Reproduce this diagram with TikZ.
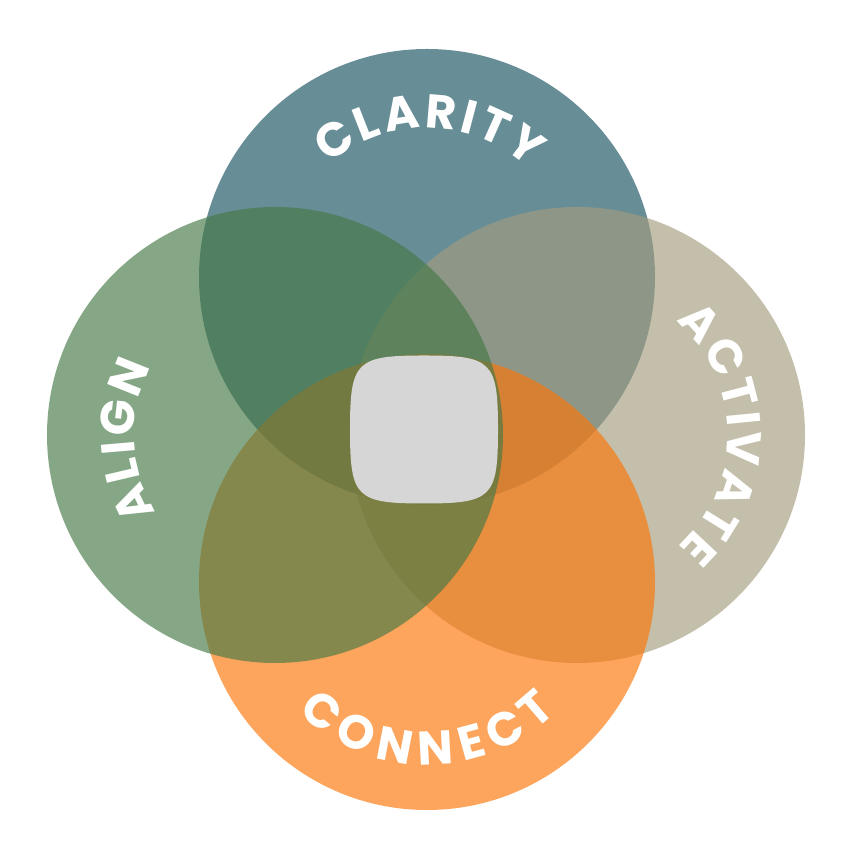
\documentclass[tikz,border=0pt]{standalone}
\usepackage{fontspec}
\newfontfamily\labelfont{Poppins}
\usetikzlibrary{decorations.text}
\definecolor{clarityblue}{RGB}{23,80,94}
\definecolor{activatesand}{RGB}{164,157,127}
\definecolor{connectorange}{RGB}{253,117,6}
\definecolor{aligngreen}{RGB}{69,121,70}
\definecolor{centergray}{RGB}{214,214,214}
\tikzset{
  petal/.style={circle, minimum size=4.56cm, inner sep=0pt, outer sep=0pt, fill opacity=0.65},
  arclabel/.style={decorate, decoration={text along path, text color=white,
      text={|\labelfont\bfseries\fontsize{13.5}{16}\selectfont|#1}, text align=fit to path}}
}

\begin{document}
\begin{tikzpicture}
\fill[white] (0,0) rectangle (8.55,8.55);
\useasboundingbox (0,0) rectangle (8.55,8.55);
% the four circles, back to front
\node[petal, fill=clarityblue] (clarity) at (4.27,5.78) {};
\node[petal, fill=activatesand] (activate) at (5.77,4.20) {};
\node[petal, fill=connectorange] (connect) at (4.27,2.73) {};
\node[petal, fill=aligngreen] (align) at (2.75,4.20) {};
% centre piece
\fill[centergray, shift={(4.24,4.255)}] (0,0.74) .. controls (0.68,0.74) and (0.74,0.68) .. (0.74,0)
  .. controls (0.74,-0.68) and (0.68,-0.74) .. (0,-0.74)
  .. controls (-0.68,-0.74) and (-0.74,-0.68) .. (-0.74,0)
  .. controls (-0.74,0.68) and (-0.68,0.74) .. (0,0.74) -- cycle;
% labels
\path[arclabel=CLARITY] ([shift={(131:1.49)}]clarity.center) arc[start angle=131, end angle=47, radius=1.49];
\path[arclabel=ACTIVATE] ([shift={(49:1.51)}]activate.center) arc[start angle=49, end angle=-48, radius=1.51];
\path[arclabel=CONNECT] ([shift={(225:1.83)}]connect.center) arc[start angle=225, end angle=315, radius=1.83];
\path[arclabel=ALIGN] ([shift={(213:1.41)}]align.center) arc[start angle=213, end angle=151, radius=1.41];
\end{tikzpicture}
\end{document}
